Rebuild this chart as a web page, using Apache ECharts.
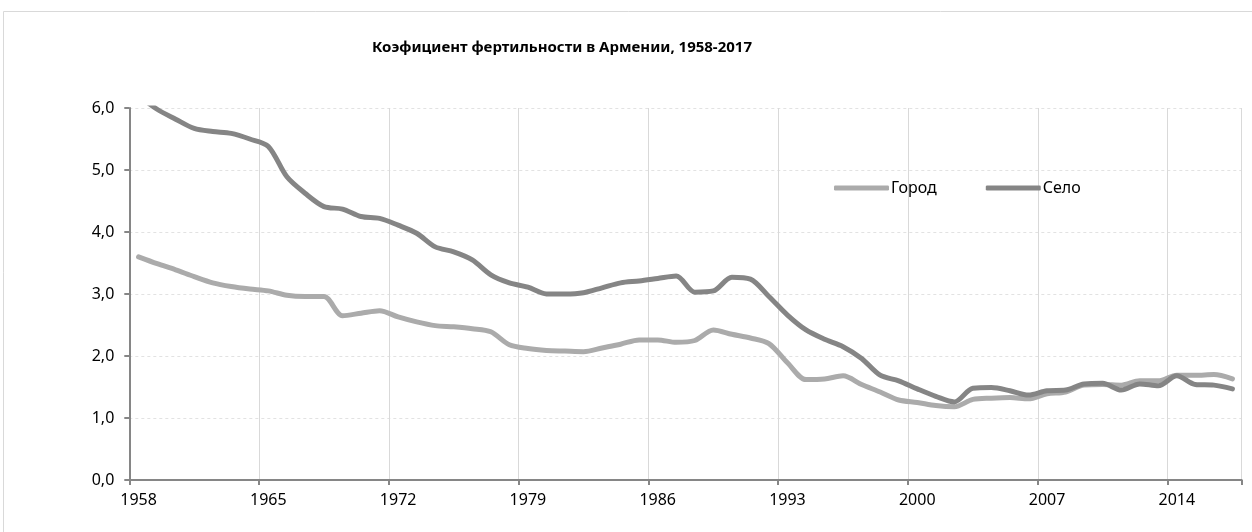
<!DOCTYPE html>
<html>
<head>
<meta charset="utf-8">
<script src="https://cdn.jsdelivr.net/npm/echarts@6/dist/echarts.min.js"></script>
<style>
html,body{margin:0;padding:0;background:#fff;}
#chart{width:1252px;height:532px;}
</style>
</head>
<body>
<div id="chart"></div>
<script>
var years = [];
for (var y = 1958; y <= 2017; y++) years.push(String(y));

var city = [3.60,3.49,3.39,3.28,3.18,3.12,3.08,3.05,2.98,2.96,
            2.96,2.65,2.69,2.73,2.63,2.55,2.49,2.47,2.44,2.39,
            2.18,2.12,2.09,2.08,2.07,2.13,2.19,2.26,2.26,2.22,
            2.25,2.42,2.35,2.29,2.20,1.89,1.62,1.63,1.68,1.54,
            1.42,1.29,1.25,1.20,1.18,1.30,1.32,1.33,1.31,1.39,
            1.42,1.53,1.54,1.53,1.60,1.60,1.69,1.69,1.70,1.63];

var village = [6.20,5.98,5.82,5.67,5.62,5.59,5.50,5.38,4.89,4.62,
               4.41,4.37,4.25,4.22,4.11,3.98,3.76,3.68,3.55,3.31,
               3.18,3.11,3.00,3.00,3.02,3.10,3.18,3.21,3.25,3.29,
               3.03,3.05,3.27,3.24,2.96,2.66,2.42,2.27,2.15,1.96,
               1.69,1.60,1.47,1.35,1.26,1.48,1.49,1.44,1.37,1.44,
               1.45,1.55,1.56,1.45,1.55,1.52,1.68,1.54,1.53,1.47];

var seriesNames = ['Город', 'Село'];
var titleText = 'Коэфициент фертильности в Армении, 1958-2017';

var FONT = '"Noto Sans", "DejaVu Sans", sans-serif';
var chart = echarts.init(document.getElementById('chart'), null, {renderer: 'canvas'});

chart.setOption({
  animation: false,
  backgroundColor: '#ffffff',
  textStyle: {fontFamily: FONT},
  graphic: [{
    type: 'rect',
    shape: {x: 3.5, y: 11.5, width: 1270, height: 560},
    style: {fill: 'none', stroke: '#d9d9d9', lineWidth: 1},
    silent: true,
    z: -10
  }],
  title: {
    text: titleText,
    left: 557,
    top: 35,
    textAlign: 'center',
    textStyle: {fontFamily: FONT, fontSize: 15, fontWeight: 'bold', color: '#000'}
  },
  legend: {
    left: 829,
    top: 175,
    itemWidth: 55,
    itemHeight: 5,
    itemGap: 49,
    icon: 'roundRect',
    textStyle: {fontFamily: FONT, fontSize: 16, color: '#000', padding: [0, 0, 0, -3]},
    data: seriesNames
  },
  grid: {
    left: 129.3,
    right: 10.3,
    top: 108,
    bottom: 52,
    outerBoundsMode: 'none'
  },
  xAxis: {
    type: 'category',
    data: years,
    boundaryGap: true,
    axisLine: {lineStyle: {color: '#868686', width: 2}},
    axisTick: {show: true, interval: 6, length: 5, lineStyle: {color: '#868686', width: 2}},
    axisLabel: {interval: 6, margin: 12, fontFamily: FONT, fontSize: 16, color: '#000'},
    splitLine: {show: true, interval: 6, lineStyle: {color: '#d9d9d9', width: 1}}
  },
  yAxis: {
    type: 'value',
    min: 0,
    max: 6,
    interval: 1,
    axisLine: {show: true, lineStyle: {color: '#868686', width: 2}},
    axisTick: {show: true, length: 5, lineStyle: {color: '#868686', width: 2}},
    axisLabel: {
      margin: 15,
      fontFamily: FONT, fontSize: 16, color: '#000',
      formatter: function (v) { return v.toFixed(1).replace('.', ','); }
    },
    splitLine: {show: true, lineStyle: {color: '#e2e2e2', width: 1, type: [3, 3]}}
  },
  series: [
    {
      name: seriesNames[0],
      type: 'line',
      data: city,
      smooth: 0.3,
      symbol: 'none',
      clip: true,
      color: '#ababab',
      lineStyle: {color: '#ababab', width: 5, cap: 'round', join: 'round'}
    },
    {
      name: seriesNames[1],
      type: 'line',
      data: village,
      smooth: 0.3,
      symbol: 'none',
      clip: true,
      color: '#858585',
      lineStyle: {color: '#858585', width: 5, cap: 'round', join: 'round'}
    }
  ]
});
</script>
</body>
</html>
